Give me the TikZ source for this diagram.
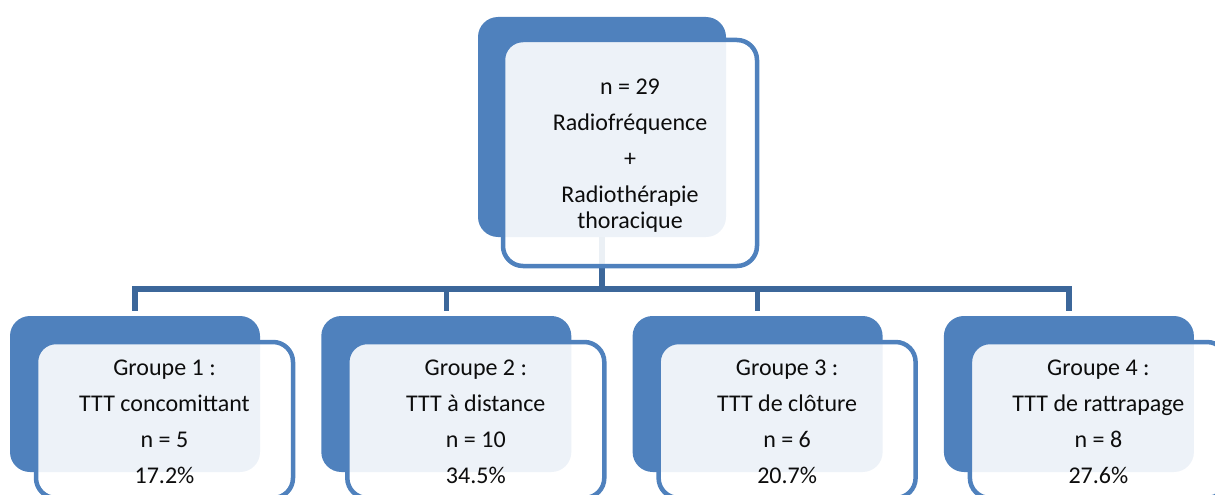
\documentclass[tikz,border=0pt]{standalone}
\usepackage{fontspec}
\setmainfont{Carlito}
\usetikzlibrary{calc}
\definecolor{boxblue}{HTML}{4F81BD}
\definecolor{linkblue}{HTML}{3C679A}
\definecolor{txt}{HTML}{0D0D0D}
\begin{document}
\begin{tikzpicture}[x=1pt,y=-1pt,
  backbox/.style={fill=boxblue, rounded corners=20pt, inner sep=0pt, draw=none},
  frontbox/.style={fill=white, fill opacity=0.9, draw=boxblue, line width=4.5pt, rounded corners=20pt, inner sep=0pt},
  boxtext/.style={align=center, text=txt, inner sep=0pt, font=\fontsize{24}{36}\selectfont},
  link/.style={draw=linkblue, line width=5.5pt}]
\useasboundingbox (0,0) rectangle (1215,495);
\clip (0,0) rectangle (1215,495);
% back boxes
\node[backbox, minimum width=248pt, minimum height=220pt] (tb) at (602,127) {};
\foreach \i in {1,...,4}{
  \node[backbox, minimum width=250pt, minimum height=156pt] (b\i) at ({135+311.3*(\i-1)},394) {};
}
% connectors
\coordinate (j) at (602,289);
\draw[link] (tb.south) -- (j);
\draw[link, shorten <=5pt, shorten >=5pt] (b1.north) -- (b1.north |- j) -- (b4.north |- j) -- (b4.north);
\draw[link, shorten <=5pt] (b2.north) -- (b2.north |- j);
\draw[link, shorten <=5pt] (b3.north) -- (b3.north |- j);
% front boxes
\node[frontbox, minimum width=254pt, minimum height=226pt] (tf) at (630,153) {};
\foreach \i in {1,...,4}{
  \node[frontbox, minimum width=257pt, minimum height=156pt] (f\i) at ({164.5+311.3*(\i-1)},420) {};
}
% texts
\node[boxtext] (tt) at ($(tf.center)+(0,3)$) {n = 29\\Radiofréquence\\+\\Radiothérapie\\[-10pt]thoracique};
\node[boxtext] (t1) at ($(f1.center)+(0,1.5)$) {Groupe 1 :\\TTT concomittant\\n = 5\\17.2\%};
\node[boxtext] (t2) at ($(f2.center)+(0,1.5)$) {Groupe 2 :\\TTT à distance\\n = 10\\34.5\%};
\node[boxtext] (t3) at ($(f3.center)+(0,1.5)$) {Groupe 3 :\\TTT de clôture\\n = 6\\20.7\%};
\node[boxtext] (t4) at ($(f4.center)+(0,1.5)$) {Groupe 4 :\\TTT de rattrapage\\n = 8\\27.6\%};
\end{tikzpicture}
\end{document}
